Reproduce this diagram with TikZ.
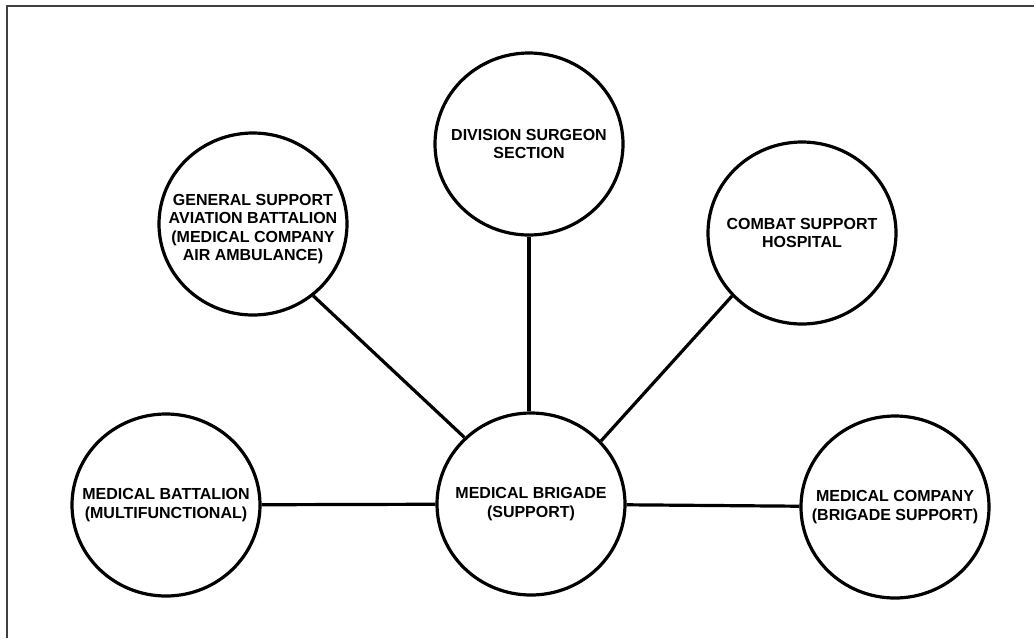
\documentclass[tikz,border=0pt]{standalone}
\usepackage{fontspec}
\setmainfont{Liberation Sans}
\usepackage{xcolor}
\definecolor{mbframe}{RGB}{64,64,64}
\usepackage{tikz}
\usetikzlibrary{shapes.geometric}
\tikzset{
  unit/.style={ellipse,draw,line width=3.2pt,minimum width=188pt,minimum height=182pt,inner sep=0pt},
  unittext/.style={align=center,inner sep=0pt,font=\bfseries\fontsize{16}{18.6}\selectfont},
  link/.style={line width=3.2pt}
}

\begin{document}
\begin{tikzpicture}[x=1pt,y=-1pt]
\useasboundingbox (0,0) rectangle (1034,638);
% ---- rama (tylko gora i lewa) ----
\draw[mbframe,line width=2.2pt] (7,638) -- (7,6) -- (1034,6);
% ---- jednostki ----
\node[unit] (brig) at (531,504) {};
\node[unittext] (brigtxt) at (brig) {MEDICAL BRIGADE\\(SUPPORT)};
\node[unit] (dss) at (529,144) {};
\node[unittext] (dsstxt) at (dss) {DIVISION SURGEON\\SECTION};
\node[unit] (gsab) at (253,224) {};
\node[unittext] (gsabtxt) at (253,229) {GENERAL SUPPORT\\AVIATION BATTALION\\(MEDICAL COMPANY\\AIR AMBULANCE)};
\node[unit] (csh) at (802,233) {};
\node[unittext] (cshtxt) at (csh) {COMBAT SUPPORT\\HOSPITAL};
\node[unit] (mbat) at (166,505) {};
\node[unittext] (mbattxt) at (mbat) {MEDICAL BATTALION\\(MULTIFUNCTIONAL)};
\node[unit] (mco) at (895,507) {};
\node[unittext] (mcotxt) at (mco) {MEDICAL COMPANY\\(BRIGADE SUPPORT)};
% ---- polaczenia ----
\draw[link] (dss.south) -- (dss.south |- brig.north);
\draw[link] (gsab.310) -- (brig.135);
\draw[link] (csh.222) -- (brig.42);
\draw[link] (mbat) -- (brig);
\draw[link] (brig) -- (mco);
\end{tikzpicture}
\end{document}
